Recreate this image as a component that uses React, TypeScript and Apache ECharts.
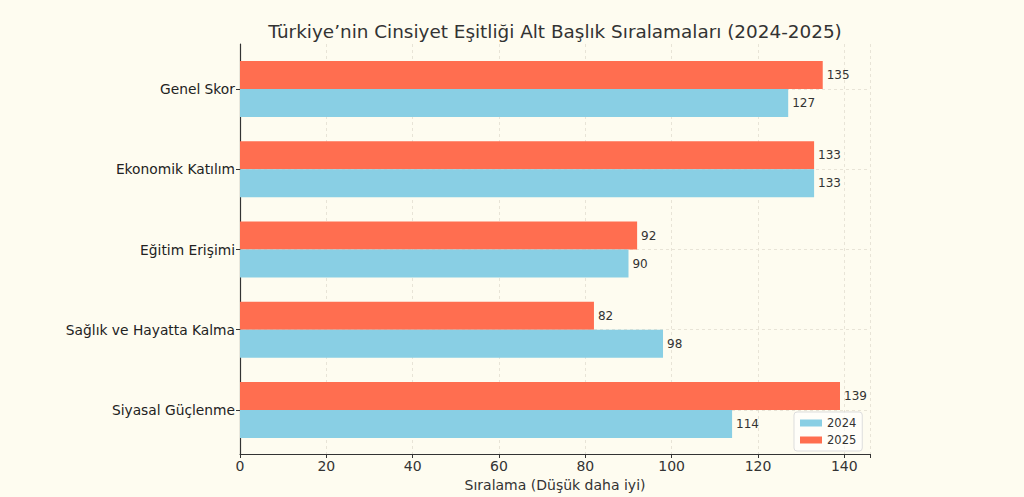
import React, { useEffect, useRef } from "react";
import * as echarts from "echarts";

const categories = [
  "Genel Skor",
  "Ekonomik Katılım",
  "Eğitim Erişimi",
  "Sağlık ve Hayatta Kalma",
  "Siyasal Güçlenme",
];
const values2024 = [127, 133, 90, 98, 114];
const values2025 = [135, 133, 92, 82, 139];
const xTicks = [0, 20, 40, 60, 80, 100, 120, 140];

const FONT = "DejaVu Sans";
const BG = "#FEFCF0";
const C2024 = "#89CFE4";
const C2025 = "#FF6E50";
const X_MAX = 145.95;

export default function App() {
  const ref = useRef<HTMLDivElement>(null);
  useEffect(() => {
    document.body.style.margin = "0";
    const chart = echarts.init(ref.current!, null, { renderer: "svg" });
    const labelStyle = {
      show: true,
      position: "right" as const,
      distance: 4,
      fontFamily: FONT,
      fontSize: 12,
      color: "#333",
    };
    chart.setOption({
      animation: false,
      backgroundColor: BG,
      textStyle: { fontFamily: FONT },
      title: {
        text: "Türkiye’nin Cinsiyet Eşitliği Alt Başlık Sıralamaları (2024-2025)",
        left: 550,
        textAlign: "center",
        top: 17,
        textStyle: { fontFamily: FONT, fontSize: 18.4, fontWeight: "normal", color: "#333" },
      },
      legend: {
        orient: "vertical",
        left: 794,
        top: 412,
        data: ["2024", "2025"],
        itemWidth: 22,
        itemHeight: 7,
        itemGap: 5,
        padding: [5, 6, 5, 6],
        backgroundColor: "rgba(255,255,255,0.6)",
        borderColor: "#dddddd",
        borderWidth: 1,
        borderRadius: 3,
        icon: "rect",
        textStyle: { fontFamily: FONT, fontSize: 11.5, color: "#333" },
      },
      grid: [
        { left: 240, right: 154, top: 49, bottom: 47 },
        { left: 240, right: 154, top: 44, bottom: 41 },
      ],
      xAxis: [
        {
          gridIndex: 0,
          type: "value",
          min: 0,
          max: X_MAX,
          show: false,
        },
        {
          gridIndex: 1,
          type: "value",
          min: 0,
          max: X_MAX,
          interval: 20,
          name: "Sıralama (Düşük daha iyi)",
          nameLocation: "middle",
          nameGap: 24,
          nameTextStyle: { fontFamily: FONT, fontSize: 14, color: "#333" },
          axisLine: { show: true, lineStyle: { color: "#333", width: 1.2 } },
          axisTick: { show: true, length: 4, lineStyle: { color: "#333" } },
          axisLabel: {
            fontFamily: FONT,
            fontSize: 14,
            color: "#333",
            margin: 5,
            formatter: (v: number) => (xTicks.includes(v) ? String(v) : ""),
          },
          splitLine: {
            show: true,
            lineStyle: { color: "#e2ddd0", type: [3, 3], width: 0.8 },
          },
        },
      ],
      yAxis: [
        {
          gridIndex: 0,
          type: "category",
          data: categories,
          inverse: true,
          axisLine: { show: false },
          axisTick: { show: true, alignWithLabel: true, length: 4, lineStyle: { color: "#333" } },
          axisLabel: { fontFamily: FONT, fontSize: 13.8, color: "#222", margin: 5 },
          splitLine: { show: false },
        },
        {
          gridIndex: 1,
          type: "value",
          min: 0,
          max: 1,
          axisLine: { show: true, onZero: false, lineStyle: { color: "#333", width: 1.2 } },
          axisTick: { show: false },
          axisLabel: { show: false },
          splitLine: { show: false },
        },
      ],
      series: [
        {
          name: "gridlines",
          type: "line",
          xAxisIndex: 0,
          yAxisIndex: 0,
          data: [],
          z: 0,
          markLine: {
            silent: true,
            symbol: "none",
            z: 0,
            label: { show: false },
            lineStyle: { color: "#e2ddd0", type: [3, 3], width: 0.8 },
            data: categories.map((c) => ({ yAxis: c })),
          },
        },
        {
          name: "2025",
          type: "bar",
          xAxisIndex: 0,
          yAxisIndex: 0,
          data: values2025,
          barWidth: 28,
          barGap: "0%",
          itemStyle: { color: C2025 },
          label: labelStyle,
          z: 2,
        },
        {
          name: "2024",
          type: "bar",
          xAxisIndex: 0,
          yAxisIndex: 0,
          data: values2024,
          barWidth: 28,
          barGap: "0%",
          itemStyle: { color: C2024 },
          label: labelStyle,
          z: 2,
        },
      ],
    });
    return () => chart.dispose();
  }, []);
  return <div ref={ref} style={{ width: 1024, height: 497 }} />;
}
